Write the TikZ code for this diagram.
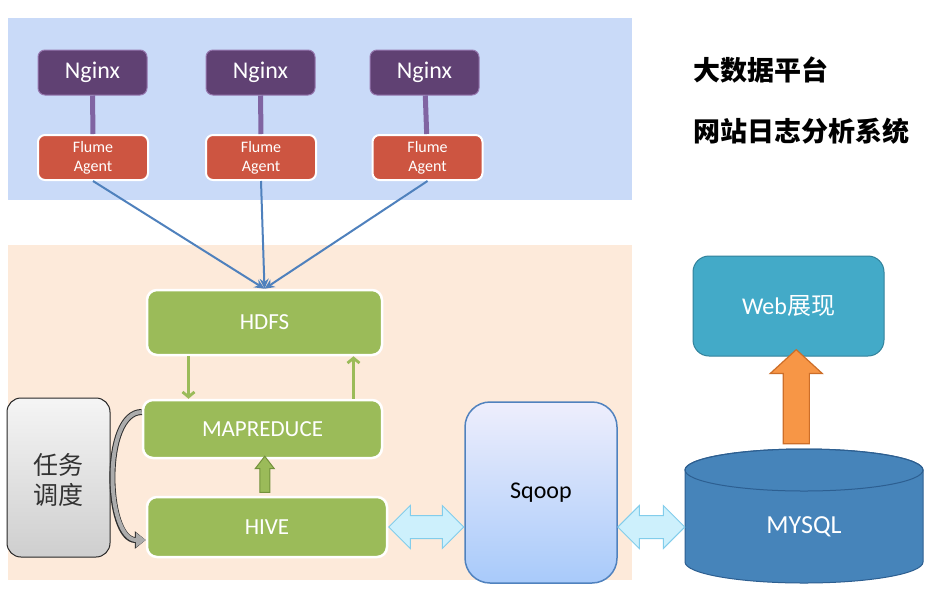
\documentclass[tikz,border=0pt]{standalone}
\usepackage{fontspec}
\setmainfont{Carlito}
\newfontfamily\cjk{Noto Sans CJK SC}
\usetikzlibrary{shapes.arrows,calc,arrows.meta}

\definecolor{topbg}{RGB}{201,218,248}
\definecolor{lowbg}{RGB}{253,234,218}
\definecolor{nginxfill}{RGB}{96,65,115}
\definecolor{nginxedge}{RGB}{150,120,175}
\definecolor{nginxline}{RGB}{128,100,162}
\definecolor{flumefill}{RGB}{205,85,65}
\definecolor{flowblue}{RGB}{79,129,189}
\definecolor{hadoopgreen}{RGB}{155,187,89}
\definecolor{hadoopedge}{RGB}{115,145,60}
\definecolor{swapfill}{RGB}{205,240,252}
\definecolor{swapedge}{RGB}{130,205,235}
\definecolor{sqtop}{RGB}{238,238,252}
\definecolor{sqbot}{RGB}{168,202,250}
\definecolor{sqedge}{RGB}{80,130,190}
\definecolor{dbfill}{RGB}{70,132,186}
\definecolor{dbedge}{RGB}{45,95,145}
\definecolor{webfill}{RGB}{67,170,200}
\definecolor{webedge}{RGB}{50,130,155}
\definecolor{showfill}{RGB}{247,150,70}
\definecolor{showedge}{RGB}{205,110,40}

\tikzset{
  nginxbox/.style={fill=nginxfill, draw=nginxedge, line width=1pt, rounded corners=7pt,
    minimum width=109pt, minimum height=45pt, text=white, font=\fontsize{24}{26}\selectfont},
  flumebox/.style={fill=flumefill, draw=white, line width=2pt, rounded corners=7pt,
    minimum width=110pt, minimum height=45pt, text=white, align=center,
    font=\fontsize{16}{19}\selectfont},
  hadoopbox/.style={fill=hadoopgreen, draw=white, line width=2.5pt, rounded corners=10pt,
    text=white, font=\fontsize{23}{26}\selectfont},
  nglink/.style={draw=nginxline, line width=5pt},
  collect/.style={draw=flowblue, line width=2pt, -{Stealth[length=10pt,width=9pt]}},
  mrflow/.style={draw=hadoopgreen, line width=2.8pt, -{Straight Barb[length=5pt,width=12pt]}},
  hiveup/.style={single arrow, rotate=90, fill=hadoopgreen, draw=hadoopedge, line width=1pt,
    inner xsep=0pt, inner ysep=4.5pt, single arrow head extend=4.5pt,
    single arrow tip angle=75, minimum height=36pt},
  swap/.style={double arrow, fill=swapfill, draw=swapedge, line width=1pt, inner xsep=0pt,
    inner ysep=11pt, double arrow head extend=10pt, double arrow tip angle=90},
  showup/.style={single arrow, rotate=90, fill=showfill, draw=showedge, line width=1.2pt,
    inner xsep=0pt, inner ysep=12.5pt, single arrow head extend=13pt,
    single arrow tip angle=95, minimum height=94pt},
  schedarr/.style={draw=gray!65, line width=4pt, -{Triangle[length=10pt,width=14pt]},
    preaction={draw=gray!35!black, line width=6pt, -{Triangle[length=11pt,width=17pt]}}},
  title/.style={anchor=west, font=\cjk\bfseries\fontsize{27}{30}\selectfont}
}

\begin{document}
\begin{tikzpicture}[x=1pt,y=-1pt]
  \useasboundingbox (0,0) rectangle (949,598);
  \fill[white] (0,0) rectangle (949,598);

  % areas
  \fill[topbg] (8,18) rectangle (632,200);
  \fill[lowbg] (8,245) rectangle (632,580);

  % collection
  \node[nginxbox] (ng1) at (92.5,72.5) {Nginx};
  \node[nginxbox] (ng2) at (260.5,72.5) {Nginx};
  \node[nginxbox] (ng3) at (424.5,72.5) {Nginx};

  \node[flumebox] (fl1) at (93,157.5) {Flume\\Agent};
  \node[flumebox] (fl2) at (261,157.5) {Flume\\Agent};
  \node[flumebox] (fl3) at (427.5,157.5) {Flume\\Agent};

  % hadoop
  \node[hadoopbox, minimum width=235pt, minimum height=65pt] (hdfs) at (264.5,322.5) {HDFS};
  \node[hadoopbox, minimum width=239pt, minimum height=58pt] (mr) at (262.5,429) {MAPREDUCE};
  \node[hadoopbox, minimum width=240pt, minimum height=60pt] (hive) at (267,527) {HIVE};

  \node[top color=gray!8, bottom color=gray!38, draw=gray!30!black, line width=1pt,
    rounded corners=14pt, minimum width=103pt, minimum height=159pt, inner sep=0pt]
    (task) at (58.5,477.5)
    {\raisebox{-12pt}[0pt][0pt]{\cjk\fontsize{25}{29}\selectfont\color{black!80}%
      \begin{tabular}{@{}c@{}}任务\\调度\end{tabular}}};

  \node[top color=sqtop, bottom color=sqbot, draw=sqedge, line width=1.5pt,
    rounded corners=25pt, minimum width=152pt, minimum height=181pt,
    font=\fontsize{24}{26}\selectfont] (sqoop) at (541,492.5) {Sqoop};

  % database
  \filldraw[fill=dbfill, draw=dbedge, line width=1pt] (685,470) -- (685,562)
    arc[start angle=180, end angle=360, x radius=119pt, y radius=21pt] -- (923,470)
    arc[start angle=0, end angle=180, x radius=119pt, y radius=21pt] -- cycle;
  \draw[dbedge, line width=1pt] (804,470) ellipse [x radius=119pt, y radius=21pt];
  \node[minimum width=238pt, minimum height=113pt, inner sep=0pt, text=white,
    font=\fontsize{26}{28}\selectfont] (mysql) at (804,526.5) {MYSQL};

  \node[fill=webfill, draw=webedge, line width=1pt, rounded corners=16pt,
    minimum width=191pt, minimum height=100pt, text=white,
    font=\fontsize{24}{26}\selectfont] (web) at (788.5,306) {Web{\cjk 展现}};

  \node[title] (t1) at (690,70) {大数据平台};
  \node[title] (t2) at (690,131) {网站日志分析系统};

  % links
  \draw[nglink] (ng1) -- (fl1);
  \draw[nglink] (ng2) -- (fl2);
  \draw[nglink] (ng3) -- (fl3);

  \draw[collect] (fl1.south) -- (hdfs.north);
  \draw[collect] (fl2.south) -- (hdfs.north);
  \draw[collect] (fl3.south) -- (hdfs.north);

  \draw[mrflow] ([xshift=-76pt]hdfs.south) -- ([xshift=-74pt]mr.north);
  \draw[mrflow] ([xshift=91pt]mr.north) -- ([xshift=89pt]hdfs.south);

  \node[hiveup] (hm) at ($(hive.north)!0.5!(mr.south)$) {};

  \draw[schedarr] ([yshift=17pt]mr.west) to[out=180, in=180, looseness=0.8]
    ([yshift=-13pt]hive.west);

  \node[swap, minimum height=75pt] (hs) at ($(hive.east)!0.5!(hive.east -| sqoop.west)$) {};
  \node[swap, minimum height=67pt] (sm) at ($(sqoop.east |- hive.east)!0.5!(mysql.west |- hive.east)$) {};

  \node[showup] (mw) at ($([yshift=21pt]mysql.north)!0.5!(web.south)$) {};
\end{tikzpicture}
\end{document}
